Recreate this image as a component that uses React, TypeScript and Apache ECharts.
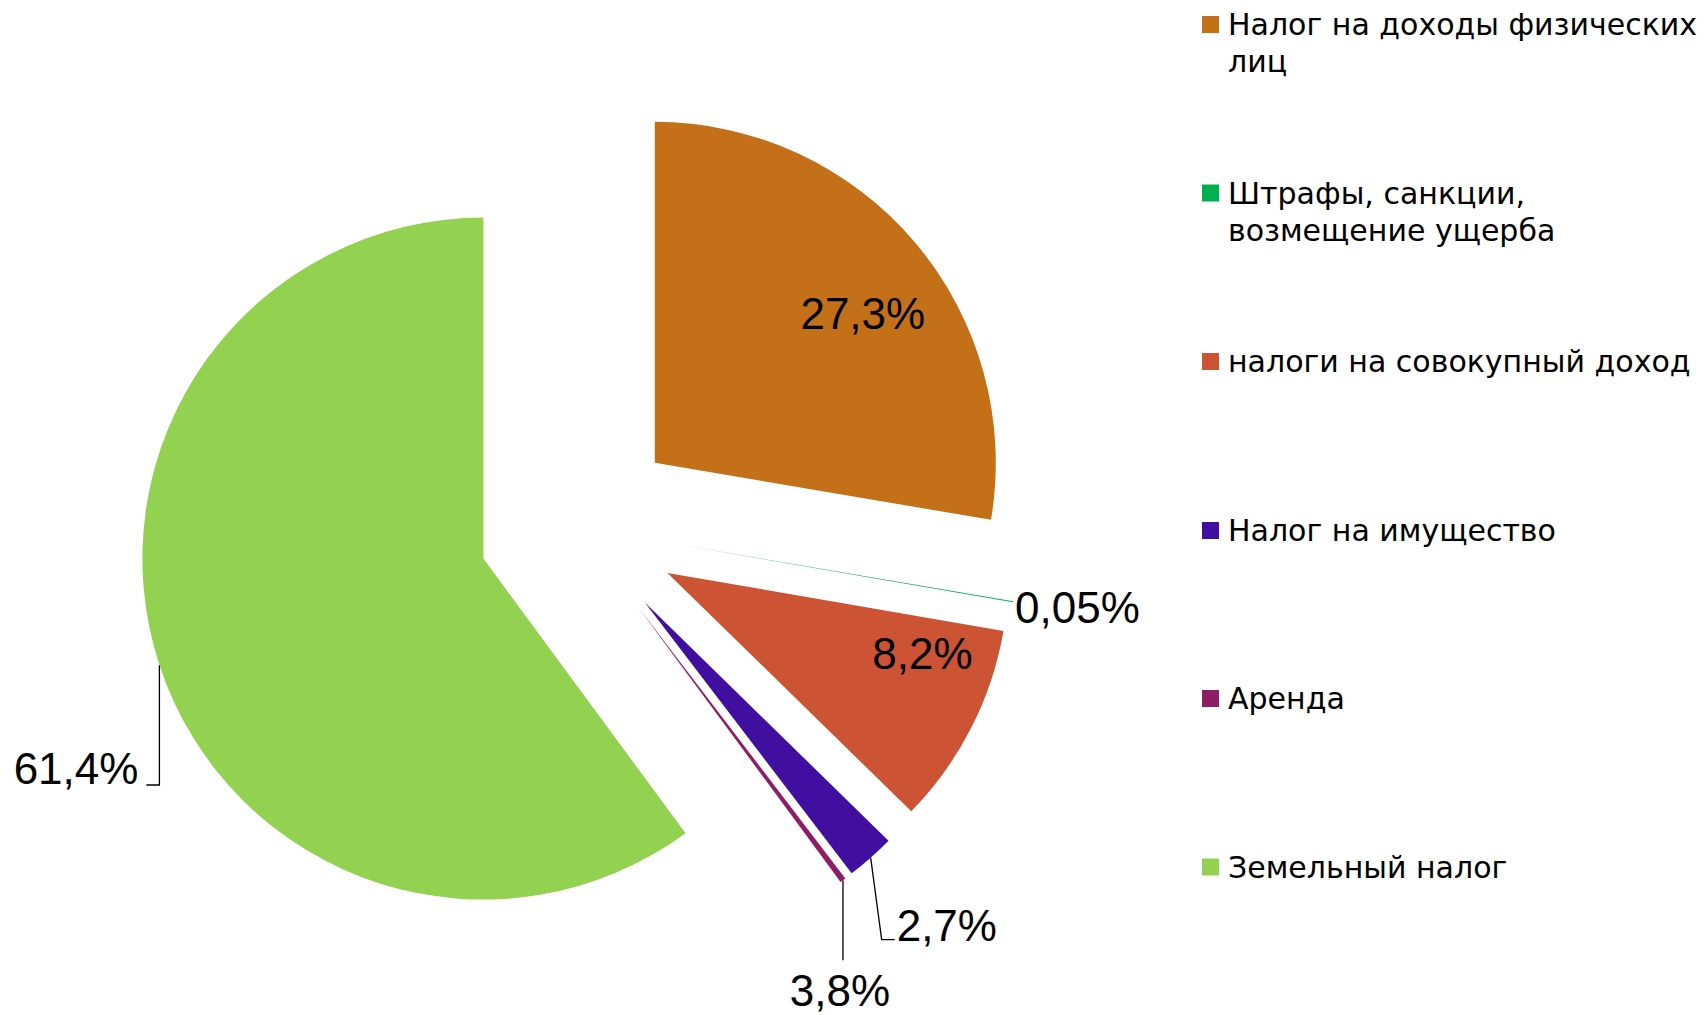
import React, { useEffect, useRef } from "react";
import * as echarts from "echarts";

// ---- data ----
const categories = [
  "Налог на доходы физических лиц",
  "Штрафы, санкции, возмещение ущерба",
  "налоги на совокупный доход",
  "Налог на имущество",
  "Аренда",
  "Земельный налог",
];
const legendLines = [
  "Налог на доходы физических\nлиц",
  "Штрафы, санкции,\nвозмещение ущерба",
  "налоги на совокупный доход",
  "Налог на имущество",
  "Аренда",
  "Земельный налог",
];
// slice sizes as drawn (share of the circle, %)
const sliceValues = [27.67, 0.05, 9.6, 2.3, 0.28, 60.1];
// data labels as printed on the chart
const labelTexts = ["27,3%", "0,05%", "8,2%", "2,7%", "3,8%", "61,4%"];
const colors = ["#C47019", "#00B050", "#CC5334", "#410F9F", "#8E1D66", "#93D150"];

// ---- layout ----
const CX = 578.4;
const CY = 527.4;
const R = 341;
const OFF = 100;
const LH = 37;
const legendCenters = [24.5, 193, 361.5, 530.5, 698.5, 867];

type Placement = {
  inside: boolean;
  dx: number;
  dy: number;
  align: "left" | "center" | "right";
  line?: number[][];
};
const placements: Placement[] = [
  { inside: true, dx: 208, dy: -149, align: "center" },
  { inside: false, dx: 2, dy: 6, align: "left" },
  { inside: true, dx: 255, dy: 81, align: "center" },
  { inside: false, dx: 26, dy: 68, align: "left", line: [[11, 82], [24, 82]] },
  { inside: false, dx: -3, dy: 110, align: "center", line: [[0, 80], [0, 80]] },
  { inside: false, dx: -21, dy: 104, align: "right", line: [[0, 120], [-13, 120]] },
];

export default function App() {
  const ref = useRef<HTMLDivElement>(null);
  useEffect(() => {
    if (!ref.current) return;
    const chart = echarts.init(ref.current, undefined, { renderer: "svg" });
    const total = sliceValues.reduce((a, b) => a + b, 0);
    const mids: number[] = [];
    let cum = 0;
    sliceValues.forEach((v) => {
      mids.push(-Math.PI / 2 + ((cum + v / 2) / total) * 2 * Math.PI);
      cum += v;
    });
    const geom = (i: number) => {
      const ux = Math.cos(mids[i]);
      const uy = Math.sin(mids[i]);
      const ex = CX + OFF * ux;
      const ey = CY + OFF * uy;
      return { ex, ey, sx: ex + R * ux, sy: ey + R * uy };
    };

    // one pie per slice, each shifted outward along its bisector (exploded pie)
    const series = sliceValues.map((_, k) => {
      const g = geom(k);
      return {
        type: "pie",
        name: "s" + k,
        center: [g.ex, g.ey],
        radius: R,
        startAngle: 90,
        clockwise: true,
        avoidLabelOverlap: false,
        minShowLabelAngle: 0,
        emphasis: { disabled: true },
        label: {
          formatter: (p: any) => labelTexts[p.dataIndex],
          fontFamily: "Liberation Sans",
          fontSize: 44,
          color: "#000",
        },
        labelLine: { lineStyle: { color: "#000", width: 1.3 } },
        labelLayout: (params: any) => {
          const i = params.dataIndex;
          const gi = geom(i);
          const p = placements[i];
          const bx = p.inside ? gi.ex : gi.sx;
          const by = p.inside ? gi.ey : gi.sy;
          const out: any = {
            x: bx + p.dx,
            y: by + p.dy,
            align: p.align,
            verticalAlign: "middle",
          };
          if (p.line) {
            out.labelLinePoints = [[gi.sx, gi.sy], ...p.line.map((q) => [gi.sx + q[0], gi.sy + q[1]])];
          }
          return out;
        },
        data: categories.map((name, i) => ({
          name,
          value: sliceValues[i],
          itemStyle: { color: colors[i], opacity: i === k ? 1 : 0, borderWidth: 0 },
          label: {
            show: i === k,
            position: placements[i].inside ? "inside" : "outside",
          },
          labelLine: { show: i === k && !!placements[i].line },
        })),
      };
    });

    const legend = categories.map((name, i) => {
      const twoLines = legendLines[i].indexOf("\n") >= 0;
      return {
        data: [name],
        orient: "vertical",
        left: 1202,
        top: twoLines ? legendCenters[i] - 1.5 * LH : legendCenters[i] - LH / 2,
        padding: 0,
        itemWidth: 17,
        itemHeight: 17,
        icon: "rect",
        selectedMode: false,
        itemStyle: { opacity: 1 },
        // leading empty line keeps the first text line level with the marker
        formatter: () => (twoLines ? "\n" + legendLines[i] : legendLines[i]),
        textStyle: {
          fontFamily: "DejaVu Sans",
          fontSize: 30,
          lineHeight: LH,
          color: "#000",
          padding: [0, 0, 0, 4],
        },
      };
    });

    chart.setOption({
      animation: false,
      backgroundColor: "#fff",
      legend,
      series,
    } as any);
    return () => chart.dispose();
  }, []);
  return (
    <div
      ref={ref}
      style={{ position: "fixed", left: 0, top: 0, width: 1708, height: 1015, background: "#fff" }}
    />
  );
}
